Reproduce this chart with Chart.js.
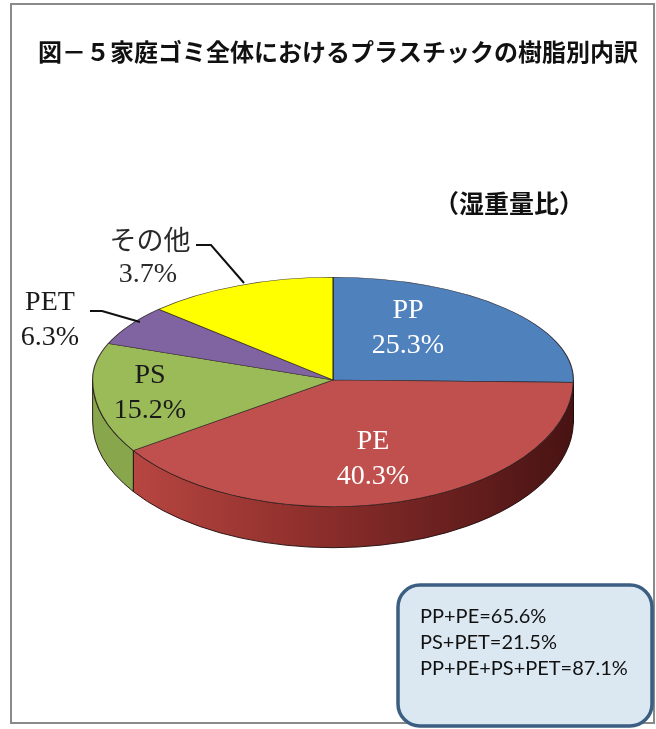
<!DOCTYPE html>
<html><head><meta charset="utf-8">
<script src="https://cdn.jsdelivr.net/npm/chart.js@4/dist/chart.umd.min.js"></script>
<style>html,body{margin:0;padding:0;background:#fff;overflow:hidden}#wrap{width:656px;height:729px;position:relative}</style>
</head><body><div id="wrap"><canvas id="c" width="656" height="729"></canvas></div>
<script>
const categories = ['PP', 'PE', 'PS', 'PET', 'その他'];
const shareValues = [25.3, 40.3, 15.2, 6.3, 12.9];
const percentLabels = ['25.3%', '40.3%', '15.2%', '6.3%', '3.7%'];
const summaryLines = ['PP+PE=65.6%', 'PS+PET=21.5%', 'PP+PE+PS+PET=87.1%'];
const chartTitle = '図－５家庭ゴミ全体におけるプラスチックの樹脂別内訳';
const unitNote = '（湿重量比）';

const topColors = ['#4f81bd', '#c0504d', '#9bbb59', '#8064a2', '#ffff00'];
const sideColors = ['#2f5080', '#8a2c2a', '#88a64c', '#5d4778', '#c8c800'];
const labelColors = ['#ffffff', '#ffffff', '#1a1a1a', '#1a1a1a', '#2a2a2a'];

const TILT_BACK = 0.427, TILT_FRONT = 0.527, DEPTH = 41;

function geom(chart) {
  const el = chart.getDatasetMeta(0).data[0];
  return { cx: el.x, cy: el.y, R: el.outerRadius };
}

const pie3d = {
  id: 'pie3d',
  beforeDraw(chart) {
    const ctx = chart.ctx;
    ctx.save();
    ctx.fillStyle = '#fff';
    ctx.fillRect(0, 0, chart.width, chart.height);
    ctx.strokeStyle = '#8a8a8a';
    ctx.lineWidth = 2;
    ctx.strokeRect(11, 4, 643, 719);
    ctx.restore();
  },
  beforeDatasetsDraw(chart) {
    const ctx = chart.ctx;
    const meta = chart.getDatasetMeta(0);
    const { cx, cy, R } = geom(chart);
    meta.data.forEach((el, i) => {
      const a1 = Math.max(el.startAngle, 0), a2 = Math.min(el.endAngle, Math.PI);
      if (a2 <= a1) return;
      ctx.save();
      ctx.beginPath();
      ctx.ellipse(cx, cy, R, R * TILT_FRONT, 0, a1, a2, false);
      ctx.ellipse(cx, cy + DEPTH, R, R * TILT_FRONT, 0, a2, a1, true);
      ctx.closePath();
      let fill = sideColors[i];
      if (i === 1) {
        const g = ctx.createLinearGradient(cx - R, 0, cx + R, 0);
        g.addColorStop(0, '#c04b45');
        g.addColorStop(0.45, '#8e2f2c');
        g.addColorStop(1, '#481313');
        fill = g;
      }
      ctx.fillStyle = fill;
      ctx.fill();
      ctx.strokeStyle = 'rgba(30,10,10,0.9)';
      ctx.lineWidth = 1;
      ctx.stroke();
      ctx.restore();
    });
    ctx.save();
    ctx.beginPath();
    ctx.rect(0, 0, chart.width, cy);
    ctx.clip();
    ctx.translate(0, cy);
    ctx.scale(1, TILT_BACK);
    ctx.translate(0, -cy);
  },
  afterDatasetsDraw(chart) {
    const ctx = chart.ctx;
    const meta = chart.getDatasetMeta(0);
    const { cy } = geom(chart);
    ctx.restore();
    ctx.save();
    ctx.beginPath();
    ctx.rect(0, cy, chart.width, chart.height - cy);
    ctx.clip();
    ctx.translate(0, cy);
    ctx.scale(1, TILT_FRONT);
    ctx.translate(0, -cy);
    meta.controller.draw();
    ctx.restore();
  },
  afterDraw(chart) {
    const ctx = chart.ctx;
    const { cx, cy } = geom(chart);
    ctx.save();
    // title
    ctx.fillStyle = '#111';
    ctx.textAlign = 'center';
    ctx.textBaseline = 'middle';
    ctx.font = 'bold 24px "Noto Sans CJK JP"';
    ctx.fillText(chartTitle, 338, 52);
    ctx.font = 'bold 25px "Noto Sans CJK JP"';
    ctx.fillText(unitNote, 509, 203);

    // leader lines
    ctx.strokeStyle = '#111';
    ctx.lineWidth = 2;
    const leaders = [
      [[-137, -135], [-122, -135], [-89, -97]],
      [[-243, -69], [-231, -69], [-193, -58]]
    ];
    leaders.forEach(pts => {
      ctx.beginPath();
      pts.forEach((p, k) => k ? ctx.lineTo(cx + p[0], cy + p[1]) : ctx.moveTo(cx + p[0], cy + p[1]));
      ctx.stroke();
    });

    // slice labels
    const place = [
      { dx: 75, dy: -69, dx2: 75 },
      { dx: 40, dy: 62, dx2: 40 },
      { dx: -183, dy: -4, dx2: -183 },
      { dx: -283, dy: -77, dx2: -283 },
      { dx: -183, dy: -140, dx2: -185 }
    ];
    categories.forEach((name, i) => {
      const p = place[i];
      ctx.fillStyle = labelColors[i];
      ctx.font = /[\u3000-\u9fff]/.test(name) ? '27px "Noto Sans CJK JP"' : '28px "Liberation Serif"';
      ctx.fillText(name, cx + p.dx, cy + p.dy);
      ctx.font = '28px "Liberation Serif"';
      ctx.fillText(percentLabels[i], cx + p.dx2, cy + p.dy + 35);
    });

    // summary box
    ctx.beginPath();
    ctx.roundRect(398, 585, 254, 141, 22);
    ctx.fillStyle = '#dbe8f2';
    ctx.fill();
    ctx.strokeStyle = '#3b5e82';
    ctx.lineWidth = 3.5;
    ctx.stroke();
    ctx.fillStyle = '#111';
    ctx.textAlign = 'left';
    ctx.font = '20px Lato';
    summaryLines.forEach((t, k) => ctx.fillText(t, 420, 617 + k * 26));
    ctx.restore();
  }
};

new Chart(document.getElementById('c'), {
  type: 'pie',
  data: {
    labels: categories,
    datasets: [{
      data: shareValues,
      backgroundColor: topColors,
      borderColor: 'rgba(40,30,30,0.85)',
      borderWidth: 1.2,
      hoverOffset: 0
    }]
  },
  options: {
    responsive: false,
    animation: false,
    events: [],
    layout: { padding: { left: 92, right: 82, top: 139, bottom: 108 } },
    plugins: { legend: { display: false }, tooltip: { enabled: false }, title: { display: false } }
  },
  plugins: [pie3d]
});
</script></body></html>
